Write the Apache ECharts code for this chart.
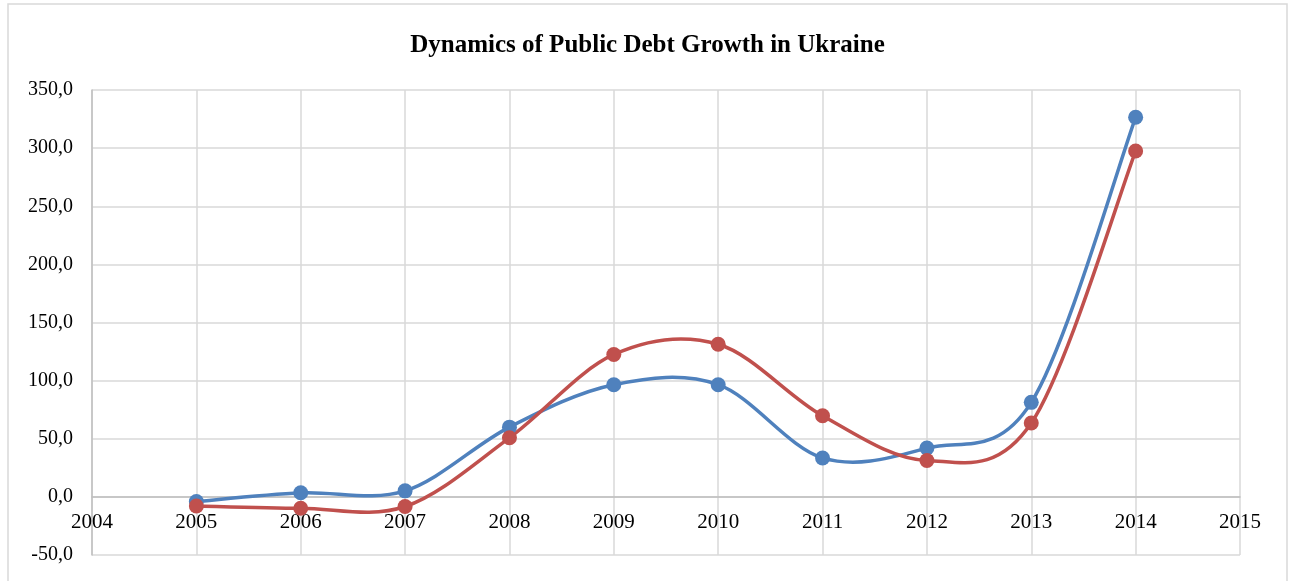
<!DOCTYPE html>
<html>
<head>
<meta charset="utf-8">
<script src="https://cdn.jsdelivr.net/npm/echarts@6/dist/echarts.min.js"></script>
<style>
  html, body { margin: 0; padding: 0; background: #fff; }
  #chart { width: 1295px; height: 581px; }
</style>
</head>
<body>
<div id="chart"></div>
<script>
// Years and annual public debt growth figures (two series)
const years = [2005, 2006, 2007, 2008, 2009, 2010, 2011, 2012, 2013, 2014];
const seriesA = [-4.0, 3.5, 5.2, 60.0, 96.5, 96.5, 33.5, 42.0, 81.3, 326.5];
const seriesB = [-7.8, -9.8, -8.3, 50.8, 122.5, 131.3, 69.8, 31.3, 63.5, 297.5];
const titleText = 'Dynamics of Public Debt Growth in Ukraine';
const xRange = [2004, 2015];
const yRange = [-50, 350];

const COLOR_A = '#4F81BD';
const COLOR_B = '#C0504D';

const chart = echarts.init(document.getElementById('chart'));
const fontFam = '"Liberation Serif", "Times New Roman", serif';

function pairs(vals) {
  return years.map((y, i) => [y, vals[i]]);
}

// Smoothed curve: cubic Bezier segments with Catmull-Rom style control
// points (tangent = (next - prev) / 6), computed in pixel space.
function curveSeries(vals, color) {
  return {
    type: 'custom',
    data: pairs(vals),
    encode: { x: 0, y: 1 },
    clip: true,
    renderItem: function (params, api) {
      const i = params.dataIndex;
      if (i >= years.length - 1) return null;
      const pt = k => api.coord([years[Math.max(0, Math.min(years.length - 1, k))],
                                 vals[Math.max(0, Math.min(years.length - 1, k))]]);
      const p0 = pt(i - 1), p1 = pt(i), p2 = pt(i + 1), p3 = pt(i + 2);
      const t = 1 / 6;
      return {
        type: 'bezierCurve',
        shape: {
          x1: p1[0], y1: p1[1],
          x2: p2[0], y2: p2[1],
          cpx1: p1[0] + (p2[0] - p0[0]) * t,
          cpy1: p1[1] + (p2[1] - p0[1]) * t,
          cpx2: p2[0] - (p3[0] - p1[0]) * t,
          cpy2: p2[1] - (p3[1] - p1[1]) * t
        },
        style: { fill: null, stroke: color, lineWidth: 3.5, lineCap: 'round' }
      };
    }
  };
}

function dotSeries(vals, color) {
  return {
    type: 'scatter',
    data: pairs(vals),
    symbol: 'circle',
    symbolSize: 15,
    itemStyle: { color: color, opacity: 1 }
  };
}

chart.setOption({
  backgroundColor: '#fff',
  animation: false,
  title: {
    text: titleText,
    left: 'center',
    top: 28,
    textStyle: { fontFamily: fontFam, fontWeight: 'bold', fontSize: 25, color: '#000' }
  },
  graphic: [{
    type: 'rect',
    shape: { x: 8, y: 4, width: 1279, height: 600 },
    style: { fill: 'none', stroke: '#d9d9d9', lineWidth: 1.5 },
    silent: true
  }],
  grid: { left: 92, right: 55, top: 90, bottom: 26 },
  xAxis: {
    type: 'value',
    min: xRange[0],
    max: xRange[1],
    interval: 1,
    position: 'bottom',
    // the year axis crosses the value axis at 0 (one 50-unit step above the bottom)
    offset: -58.1,
    axisLine: { onZero: false, lineStyle: { color: '#bfbfbf', width: 1.5 } },
    axisTick: { show: false },
    splitLine: { show: true, lineStyle: { color: '#d9d9d9', width: 1.5 } },
    axisLabel: {
      color: '#000', fontFamily: fontFam, fontSize: 21, margin: 15,
      formatter: v => String(v)
    }
  },
  yAxis: {
    type: 'value',
    min: yRange[0],
    max: yRange[1],
    interval: 50,
    axisLine: { show: true, onZero: false, lineStyle: { color: '#bfbfbf', width: 1.5 } },
    axisTick: { show: false },
    splitLine: { show: true, lineStyle: { color: '#d9d9d9', width: 1.5 } },
    axisLabel: {
      color: '#000', fontFamily: fontFam, fontSize: 20, margin: 19,
      formatter: v => v.toFixed(1).replace('.', ',')
    }
  },
  series: [
    curveSeries(seriesA, COLOR_A),
    dotSeries(seriesA, COLOR_A),
    curveSeries(seriesB, COLOR_B),
    dotSeries(seriesB, COLOR_B)
  ]
});
</script>
</body>
</html>
